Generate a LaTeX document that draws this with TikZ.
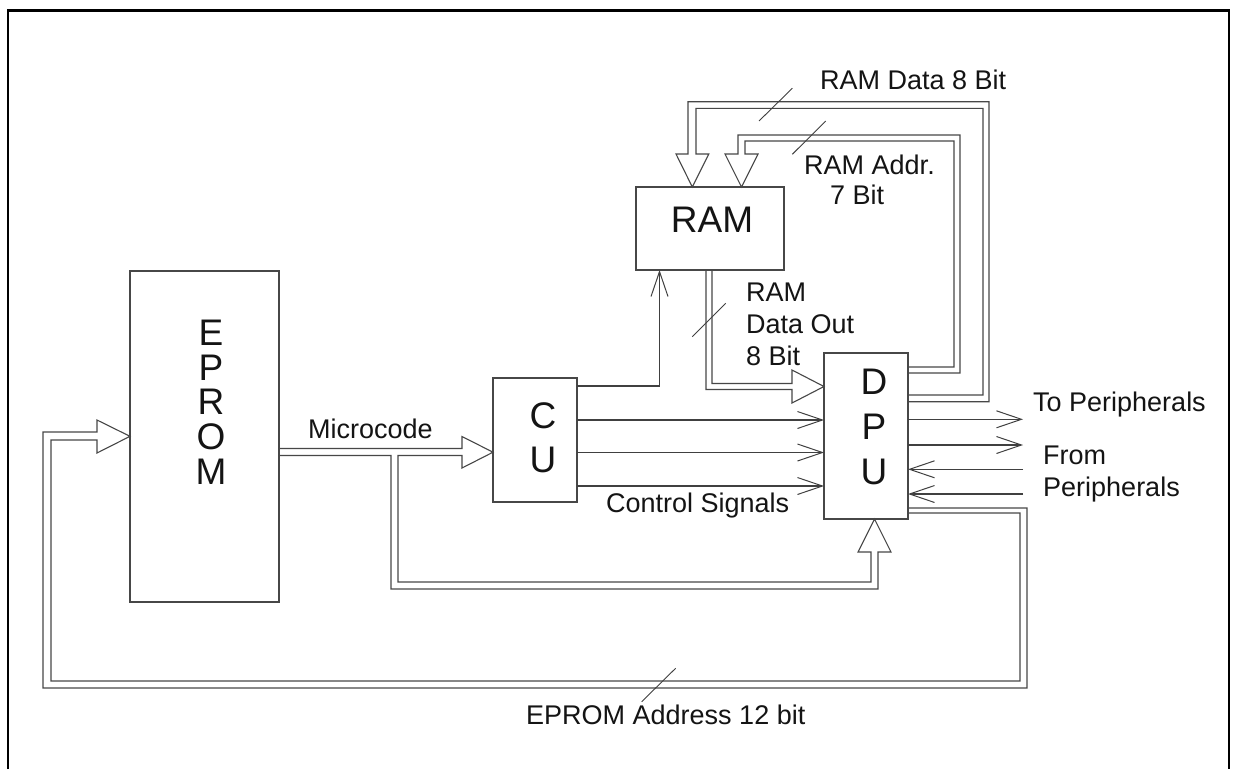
\documentclass[tikz,border=0pt]{standalone}
\usepackage{fontspec}
\setmainfont{Liberation Sans}
\usetikzlibrary{arrows.meta}
\begin{document}
\begin{tikzpicture}[x=1pt,y=-1pt,
  box/.style={draw=black!72, line width=1.3pt, inner sep=0pt, outer sep=0pt},
  bus/.style={draw=black!72, line width=1.1pt, line join=miter},
  sig/.style={draw=black!75, line width=1.1pt, -{Straight Barb[length=25pt,width=17pt,line width=1pt]}},
  slash/.style={draw=black!75, line width=0.9pt},
  lbl/.style={font=\fontsize{27}{31}\selectfont, inner sep=0pt, anchor=base west, text=black!92},
  big/.style={font=\fontsize{37}{37}\selectfont, inner sep=0pt, text=black!92}
]
\useasboundingbox (0,0) rectangle (1236,769);
\fill[white] (0,0) rectangle (1236,769);
% frame
\draw[line width=2.6pt] (8,769) -- (8,10.5) -- (1229,10.5) -- (1229,769);

% boxes
\node[box, minimum width=149pt, minimum height=331pt] (eprom) at (204.5,436.5) {};
\node[box, minimum width=84pt, minimum height=124pt] (cu) at (535,440) {};
\node[box, minimum width=148pt, minimum height=83pt] (ram) at (710,228.5) {};
\node[box, minimum width=84pt, minimum height=166pt] (dpu) at (866,436) {};

% box letters
\node[big] (e1) at (211,333) {E};
\node[big] (e2) at (211,368) {P};
\node[big] (e3) at (211,402) {R};
\node[big] (e4) at (211,437) {O};
\node[big] (e5) at (211,472) {M};
\node[big] (c1) at (543,416) {C};
\node[big] (c2) at (543,460) {U};
\node[big] (r1) at (712,220) {RAM};
\node[big] (d1) at (874,382) {D};
\node[big] (d2) at (874,427) {P};
\node[big] (d3) at (874,472) {U};

% RAM Data 8 Bit bus (DPU -> RAM)
\draw[bus] (dpu.east |- 0,401.7) -- (989,401.7) -- (989,101.7) -- (688,101.7) -- (688,154)
  -- (676,154) -- (692.3,187) -- (708.8,154) -- (696,154) -- (696,108.3) -- (983,108.3)
  -- (983,395) -- (dpu.east |- 0,395);
% RAM Addr 7 Bit bus (DPU -> RAM)
\draw[bus] (dpu.east |- 0,373) -- (960,373) -- (960,135) -- (738,135) -- (738,154)
  -- (725,154) -- (741.5,187) -- (758,154) -- (745,154) -- (745,141) -- (954,141)
  -- (954,367) -- (dpu.east |- 0,367);
% RAM Data Out bus (RAM -> DPU)
\draw[bus] (ram.south -| 706,0) -- (706,389.5) -- (792,389.5) -- (792,403)
  -- (dpu.west |- 0,386.5) -- (792,370) -- (792,383.5) -- (712,383.5) -- (ram.south -| 712,0);
% Microcode bus (EPROM -> CU, branch -> DPU)
\draw[bus] (eprom.east |- 0,448.5) -- (462,448.5) -- (462,436.5) -- (cu.west |- 0,452.2)
  -- (462,468) -- (462,455.5) -- (398,455.5) -- (398,582) -- (871,582) -- (871,552)
  -- (858,552) -- (dpu.south -| 874.5,0) -- (891,552) -- (878,552) -- (878,589)
  -- (391,589) -- (391,455.5) -- (eprom.east |- 0,455.5);
% EPROM Address 12 bit bus (DPU -> EPROM)
\draw[bus] (dpu.east |- 0,508) -- (1027,508) -- (1027,688) -- (43,688) -- (43,432)
  -- (97,432) -- (97,420) -- (eprom.west |- 0,436.3) -- (97,453) -- (97,440) -- (51,440)
  -- (51,681) -- (1020,681) -- (1020,513) -- (dpu.east |- 0,513);

% single signal lines
\draw[sig] (cu.east |- 0,386) -- (659.5,386) -- (ram.south -| 659.5,0);
\draw[sig] (cu.east |- 0,420) -- (dpu.west |- 0,420);
\draw[sig] (cu.east |- 0,452.5) -- (dpu.west |- 0,452.5);
\draw[sig] (cu.east |- 0,486) -- (dpu.west |- 0,486);
\coordinate (tp1) at (1023,419.3);
\coordinate (tp2) at (1023,445);
\coordinate (fp1) at (1023,469.3);
\coordinate (fp2) at (1023,494);
\draw[sig] (dpu.east |- tp1) -- (tp1);
\draw[sig] (dpu.east |- tp2) -- (tp2);
\draw[sig] (fp1) -- (dpu.east |- fp1);
\draw[sig] (fp2) -- (dpu.east |- fp2);

% bus width slashes
\draw[slash] (759,121) -- (792.3,88.3);
\draw[slash] (792.3,154.3) -- (825.7,121);
\draw[slash] (692.3,336.7) -- (725.7,303.3);
\draw[slash] (641.7,701.7) -- (675.6,668.3);

% labels
\node[lbl] (t1) at (820,89) {RAM Data 8 Bit};
\node[lbl] (t2) at (804,174.3) {RAM Addr.};
\node[lbl] (t3) at (830,204) {7 Bit};
\node[lbl] (t4) at (746,301.7) {RAM};
\node[lbl] (t5) at (746,333.3) {Data Out};
\node[lbl] (t6) at (746,365) {8 Bit};
\node[lbl] (t7) at (308,438.3) {Microcode};
\node[lbl] (t8) at (606,512.7) {Control Signals};
\node[lbl] (t9) at (1033,411.7) {To Peripherals};
\node[lbl] (t10) at (1043,464) {From};
\node[lbl] (t11) at (1043,496) {Peripherals};
\node[lbl] (t12) at (526,724) {EPROM Address 12 bit};
\end{tikzpicture}
\end{document}
